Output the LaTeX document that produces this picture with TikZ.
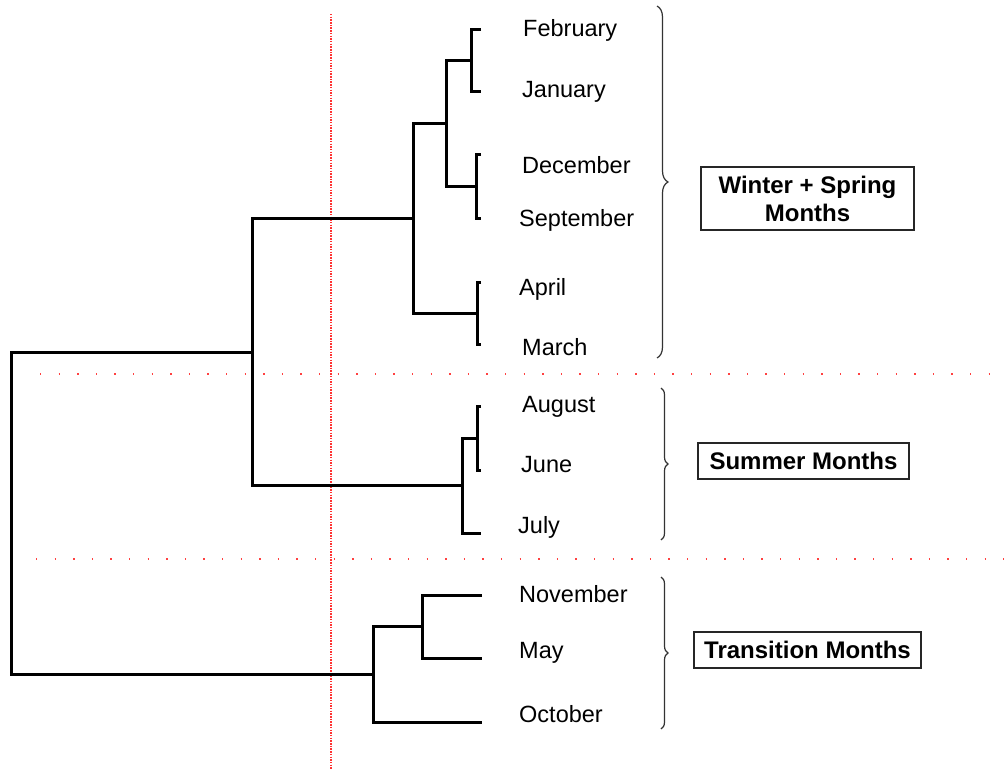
\documentclass[tikz,border=0pt]{standalone}
\usepackage{fontspec}
\setmainfont{Liberation Sans}
\usetikzlibrary{decorations.pathreplacing}

\begin{document}
\begin{tikzpicture}[x=1pt, y=-1pt,
    link/.style={line width=3pt, black, line join=miter},
    month/.style={anchor=base west, inner sep=0pt, font=\fontsize{23.5}{28}\selectfont},
    group/.style={draw=black!85, line width=1.2pt, inner sep=0pt, minimum height=36pt, align=center, font=\fontsize{24}{28}\selectfont\bfseries},
    brc/.style={decorate, decoration={brace, amplitude=#1}, line width=1.2pt, black!80},
    cutv/.style={red!80, line width=1.2pt, dash pattern=on 1.5pt off 1.2pt},
    cuth/.style={red!75, line width=1.3pt, dash pattern=on 1.3pt off 17.3pt},
]
\useasboundingbox (0,0) rectangle (1004,773);

\coordinate (feb) at (481,30);
\coordinate (jan) at (481,92);
\coordinate (dec) at (481,155);
\coordinate (sep) at (481,218);
\coordinate (apr) at (481,282);
\coordinate (mar) at (481,344);
\coordinate (aug) at (481,406);
\coordinate (jun) at (481,470);
\coordinate (jul) at (481,533);
\coordinate (nov) at (482,595);
\coordinate (may) at (482,658);
\coordinate (oct) at (482,722);

\coordinate (fj) at (471,61);
\coordinate (ds) at (476,186.5);
\coordinate (am) at (477,313);
\coordinate (fjds) at (446,123.5);
\coordinate (win) at (413,218);
\coordinate (aj) at (477,438);
\coordinate (sum) at (462,485.5);
\coordinate (ws) at (252,352);
\coordinate (nm) at (422,626.5);
\coordinate (tr) at (373,674);
\coordinate (root) at (11,513);

\draw[cutv] (331,14) -- (331,770);
\draw[cuth] (40,374) -- (995,374);
\draw[cuth] (36,559) -- (1004,559);

\draw[link] (feb) -| (fj) |- (jan);
\draw[link] (dec) -| (ds) |- (sep);
\draw[link] (apr) -| (am) |- (mar);
\draw[link] (fj) -| (fjds) |- (ds);
\draw[link] (fjds) -| (win) |- (am);
\draw[link] (aug) -| (aj) |- (jun);
\draw[link] (aj) -| (sum) |- (jul);
\draw[link] (win) -| (ws) |- (sum);
\draw[link] (nov) -| (nm) |- (may);
\draw[link] (nm) -| (tr) |- (oct);
\draw[link] (ws) -| (root) |- (tr);

\node[month] (febtxt) at (523,37) {February};
\node[month] (jantxt) at (522,98) {January};
\node[month] (dectxt) at (522,173) {December};
\node[month] (septxt) at (519,226) {September};
\node[month] (aprtxt) at (519,295) {April};
\node[month] (martxt) at (522,355) {March};
\node[month] (augtxt) at (522,412) {August};
\node[month] (juntxt) at (521,472) {June};
\node[month] (jultxt) at (518,533) {July};
\node[month] (novtxt) at (519,602) {November};
\node[month] (maytxt) at (519,658) {May};
\node[month] (octtxt) at (519,722) {October};

\draw[brc=11pt] (657,6) -- (657,358);
\draw[brc=7pt] (661,388) -- (661,540);
\draw[brc=7pt] (661,577) -- (661,729);

\node[group, minimum width=213pt, minimum height=63pt] (wsbox) at (807.5,198.5) {Winter + Spring\\Months};
\node[group, minimum width=211pt] (sumbox) at (803.5,461) {Summer Months};
\node[group, minimum width=227pt] (trbox) at (807.5,650) {Transition Months};
\end{tikzpicture}
\end{document}
